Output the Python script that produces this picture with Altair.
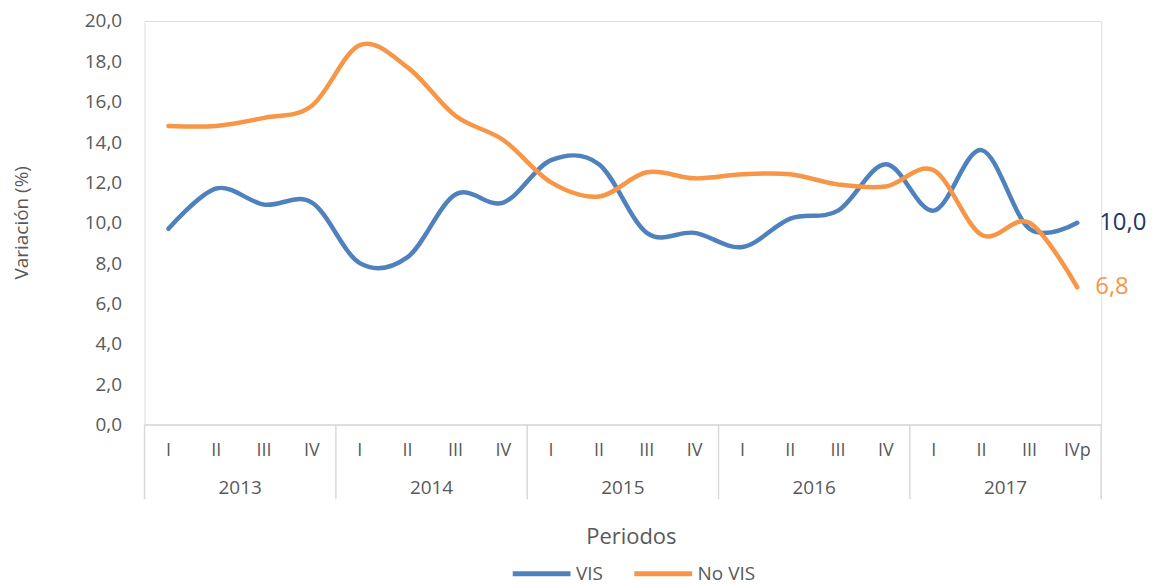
import altair as alt
import pandas as pd

years = ["2013", "2014", "2015", "2016", "2017"]
quarters = ["I", "II", "III", "IV", "I", "II", "III", "IV", "I", "II", "III", "IV",
            "I", "II", "III", "IV", "I", "II", "III", "IVp"]
vis = [9.7, 11.7, 10.9, 11.0, 8.0, 8.3, 11.4, 11.0, 13.1, 12.9, 9.5, 9.5,
       8.8, 10.2, 10.6, 12.9, 10.6, 13.6, 9.7, 10.0]
novis = [14.8, 14.8, 15.2, 15.8, 18.8, 17.7, 15.3, 14.1, 12.0, 11.3, 12.5, 12.2,
         12.4, 12.4, 11.9, 11.8, 12.6, 9.4, 10.0, 6.8]
series = ["VIS", "No VIS"]
colors = ["#4F81BD", "#F79646"]
y_ticks = [0, 2, 4, 6, 8, 10, 12, 14, 16, 18, 20]

FONT = "Open Sans"
GREY = "#595959"
LINE = "#D9D9D9"

n = len(quarters)
rows = []
for i in range(n):
    rows.append({"idx": i, "serie": "VIS", "valor": vis[i]})
    rows.append({"idx": i, "serie": "No VIS", "valor": novis[i]})
df = pd.DataFrame(rows)

qdf = pd.DataFrame({"idx": list(range(n)), "q": quarters})
ydf = pd.DataFrame({"idx": [4 * k + 1.5 for k in range(len(years))], "year": years})
bdf = pd.DataFrame({"idx": [4 * k - 0.5 for k in range(len(years) + 1)]})

xscale = alt.Scale(domain=[-0.5, n - 0.5], nice=False, zero=False)
yscale = alt.Scale(domain=[0, 20], nice=False)

xaxis = alt.Axis(labels=False, ticks=False, grid=False, domain=True,
                 domainColor=LINE, domainWidth=1.5, title="Periodos",
                 titleFont=FONT, titleFontSize=22, titleFontWeight="normal",
                 titleColor=GREY, titleY=112, titleX=488, titleAlign="center",
                 titleBaseline="middle")
yaxis = alt.Axis(values=y_ticks, domain=False, ticks=False, grid=False,
                 labelPadding=23, labelFont=FONT, labelFontSize=19, labelColor=GREY,
                 labelExpr="replace(format(datum.value, '.1f'), '.', ',')",
                 title="Variación (%)", titleFont=FONT, titleFontSize=19,
                 titleFontWeight="normal", titleColor=GREY, titleX=-123, titleY=202,
                 titleAngle=-90, titleAlign="center", titleBaseline="middle")

lines = alt.Chart(df).mark_line(interpolate="cardinal", strokeWidth=4.5, strokeCap="round").encode(
    x=alt.X("idx:Q", scale=xscale, axis=xaxis),
    y=alt.Y("valor:Q", scale=yscale, axis=yaxis),
    color=alt.Color("serie:N", scale=alt.Scale(domain=series, range=colors),
                    sort=series,
                    legend=alt.Legend(orient="none", legendX=367, legendY=523,
                                      direction="horizontal", title=None,
                                      symbolType="stroke", symbolSize=3364,
                                      symbolStrokeWidth=5, labelFont=FONT,
                                      labelFontSize=19, labelColor=GREY,
                                      columnPadding=20, labelOffset=3, padding=0)),
    order="idx:Q",
)

last = df[df["idx"] == n - 1]
lab_vis = alt.Chart(last[last["serie"] == "VIS"]).mark_text(
    align="left", baseline="middle", dx=22, fontSize=24, font=FONT, color="#203864"
).transform_calculate(t="replace(format(datum.valor, '.1f'), '.', ',')").encode(
    x=alt.X("idx:Q", scale=xscale), y=alt.Y("valor:Q", scale=yscale), text="t:N")
lab_no = alt.Chart(last[last["serie"] == "No VIS"]).mark_text(
    align="left", baseline="middle", dx=18, fontSize=24, font=FONT, color="#F79646"
).transform_calculate(t="replace(format(datum.valor, '.1f'), '.', ',')").encode(
    x=alt.X("idx:Q", scale=xscale), y=alt.Y("valor:Q", scale=yscale), text="t:N")

qlab = alt.Chart(qdf).mark_text(baseline="middle", fontSize=18, font=FONT, color=GREY).encode(
    x=alt.X("idx:Q", scale=xscale), y=alt.value(432), text="q:N")
ylab = alt.Chart(ydf).mark_text(baseline="middle", fontSize=19, font=FONT, color=GREY).encode(
    x=alt.X("idx:Q", scale=xscale), y=alt.value(469), text="year:N")
bounds = alt.Chart(bdf).mark_rule(color=LINE, strokeWidth=1.5).encode(
    x=alt.X("idx:Q", scale=xscale), y=alt.value(405), y2=alt.value(480))

chart = alt.layer(bounds, lines, qlab, ylab, lab_vis, lab_no).properties(
    width=960, height=405,
    autosize=alt.AutoSizeParams(type="none"),
    padding={"left": 137, "top": 12, "right": 55, "bottom": 160},
).configure_view(stroke=None).configure(background="white")

chart.save("out.html", embed_options={"renderer": "svg", "actions": False})
